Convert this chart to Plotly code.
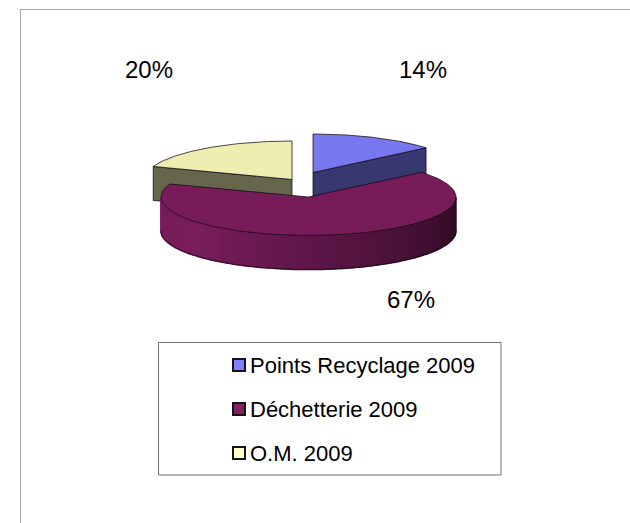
import numpy as np
import plotly.graph_objects as go

categories = ["Points Recyclage 2009", "Déchetterie 2009", "O.M. 2009"]
shares = [13.9, 66.6, 19.5]
top_colors = ["#7878EE", "#771C59", "#EEEEB0"]
wall_colors = ["#383870", "#6E1A52", "#66664C"]
swatch_colors = ["#8080FF", "#802060", "#FFFFCC"]

W, H = 630, 523
FONT = "Liberation Sans"
RX, RY, DEPTH = 147.5, 38.5, 34
centers = [(313, 172.5), (308.5, 197), (292, 179.5)]
label_pos = {0: (423, 69), 2: (148.5, 69), 1: (411, 299)}
OUTLINE = "rgba(20,10,20,0.75)"

fractions = np.array(shares) / sum(shares)
ends = np.cumsum(fractions) * 2 * np.pi
starts = ends - fractions * 2 * np.pi


def rim(cx, cy, a0, a1, n=90):
    t = np.linspace(a0, a1, n)
    return cx + RX * np.sin(t), cy - RY * np.cos(t)


def poly(fig, x, y, color, line=True):
    fig.add_trace(go.Scatter(
        x=list(x), y=list(y), mode="lines", fill="toself", fillcolor=color,
        line=dict(color=OUTLINE if line else color, width=1 if line else 1.6),
        hoverinfo="skip", showlegend=False))


def close(x, y, cx, cy):
    return np.r_[cx, x, cx], np.r_[cy, y, cy]


fig = go.Figure()

# Blue and yellow: visible cut face first, then top
for i in (0, 2):
    cx, cy = centers[i]
    xr, yr = rim(cx, cy, starts[i], ends[i])
    ex, ey = (xr[-1], yr[-1]) if i == 0 else (xr[0], yr[0])
    poly(fig, [cx, ex, ex, cx, cx], [cy, ey, ey + DEPTH, cy + DEPTH, cy], wall_colors[i])
    x, y = close(xr, yr, cx, cy)
    poly(fig, x, y, top_colors[i])

# Burgundy: shaded outer wall, then top
cx, cy = centers[1]
a_vis0, a_vis1 = np.pi / 2, 1.5 * np.pi
edges = np.linspace(a_vis0, a_vis1, 71)
for k in range(70):
    xs, ys = rim(cx, cy, edges[k], edges[k + 1], 4)
    f = (edges[k] - a_vis0) / (a_vis1 - a_vis0)
    r0, g0, b0 = (0x2C, 0x0A, 0x22)
    r1, g1, b1 = (0x78, 0x1D, 0x5A)
    m = min(1.0, f / 0.75)
    c = f"rgb({r0 + (r1 - r0) * m:.0f},{g0 + (g1 - g0) * m:.0f},{b0 + (b1 - b0) * m:.0f})"
    poly(fig, np.r_[xs, xs[::-1]], np.r_[ys, ys[::-1] + DEPTH], c, line=False)
xs, ys = rim(cx, cy, a_vis0, a_vis1)
fig.add_trace(go.Scatter(x=xs, y=ys + DEPTH, mode="lines",
                         line=dict(color=OUTLINE, width=1),
                         hoverinfo="skip", showlegend=False))
xr, yr = rim(cx, cy, starts[1], ends[1], 200)
x, y = close(xr, yr, cx, cy)
poly(fig, x, y, top_colors[1])

# Legend
LEG_X0, LEG_X1, LEG_Y0, LEG_Y1 = 158.5, 501, 342.5, 475
leg_y = [365, 409, 453]
fig.add_shape(type="rect", x0=LEG_X0, x1=LEG_X1, y0=LEG_Y0, y1=LEG_Y1,
              line=dict(color="#6e6e6e", width=1), fillcolor="white", layer="below")
fig.add_trace(go.Scatter(
    x=[239] * 3, y=leg_y, mode="markers",
    marker=dict(symbol="square", size=12, color=swatch_colors,
                line=dict(color="#151515", width=2)),
    hoverinfo="skip", showlegend=False))
for name, yy in zip(categories, leg_y):
    fig.add_annotation(x=248, y=yy, text=name, showarrow=False, xanchor="left",
                       yanchor="middle", xref="x", yref="y",
                       font=dict(family=FONT, size=22, color="#000000"))

# Percent labels
for i, (lx, ly) in label_pos.items():
    fig.add_annotation(x=lx, y=ly, text=f"{shares[i]:.0f}%", showarrow=False,
                       xref="x", yref="y",
                       font=dict(family=FONT, size=24, color="#000000"))

# Frame
FRAME = "#a6a6a6"
fig.add_shape(type="line", x0=20.5, x1=W, y0=9.5, y1=9.5, line=dict(color=FRAME, width=1))
fig.add_shape(type="line", x0=20.5, x1=20.5, y0=9.5, y1=H, line=dict(color=FRAME, width=1))

fig.update_layout(
    width=W, height=H, autosize=False,
    margin=dict(l=0, r=0, t=0, b=0),
    paper_bgcolor="white", plot_bgcolor="white",
    showlegend=False,
    xaxis=dict(range=[0, W], visible=False, fixedrange=True),
    yaxis=dict(range=[H, 0], visible=False, fixedrange=True),
)
fig.write_html("out.html", config={"displayModeBar": False},
               post_script="document.body.style.margin='0';")
